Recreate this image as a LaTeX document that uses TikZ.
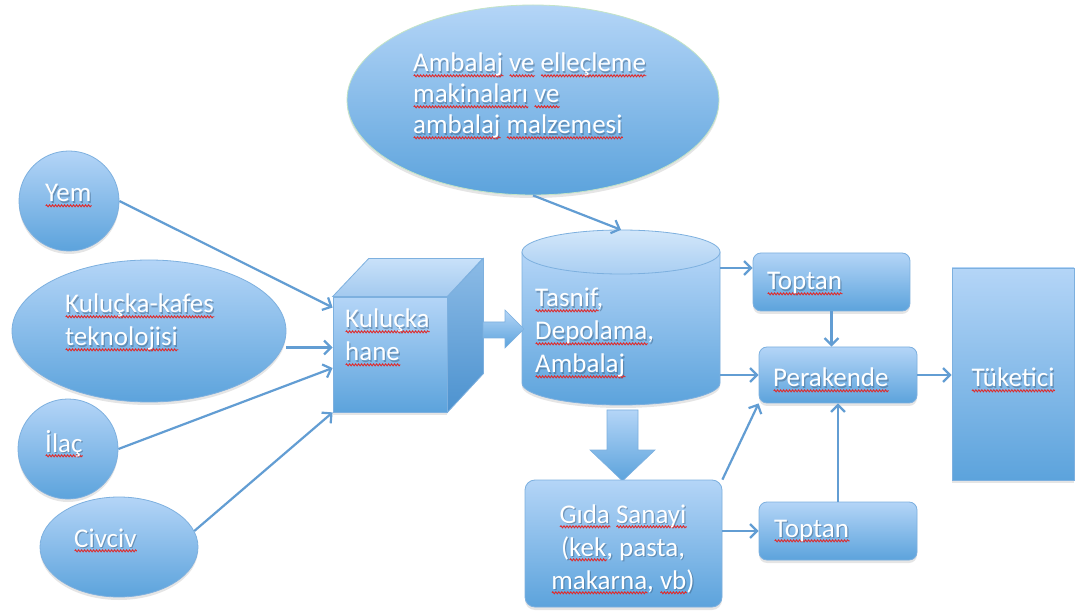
\documentclass[tikz,border=0pt]{standalone}
\usepackage{fontspec}
\setmainfont{Carlito}
\usetikzlibrary{shapes.geometric,arrows.meta,shadows,calc,decorations.pathmorphing}
\definecolor{topc}{HTML}{B4D5F7}
\definecolor{botc}{HTML}{5CA3DC}
\definecolor{edgec}{HTML}{7DB0DF}
\definecolor{ambedge}{HTML}{C3E4C6}
\definecolor{arrc}{HTML}{629DD3}
\definecolor{sqred}{HTML}{E02A2A}
\definecolor{cubetopa}{HTML}{C8E1F9}
\definecolor{cubetopb}{HTML}{A2C9EF}
\definecolor{sidea}{HTML}{8CBBE6}
\definecolor{sideb}{HTML}{4C92CF}
\definecolor{cyltopa}{HTML}{D3E7FA}
\definecolor{cyltopb}{HTML}{A9CEF2}
\definecolor{txtshade}{HTML}{3A5A7A}
\newlength\sqlen
\newif\ifsqshow \sqshowtrue
\newcommand\sq[1]{\ifsqshow\settowidth\sqlen{#1}\leavevmode\rlap{\tikz[baseline=0pt]\draw[sqred, line width=0.9pt, decorate, decoration={snake, amplitude=1pt, segment length=3pt}] (0pt,-3.8pt) -- (\sqlen,-3.8pt);}\fi#1}
\newcommand\tl[1]{\begin{tabular}[t]{@{}l@{}}#1\end{tabular}}
\newcommand\tcn[1]{\begin{tabular}[t]{@{}c@{}}#1\end{tabular}}
% text node with soft shadow: [options]{name}{position}{text}
\newcommand\tnode[4][]{%
  \node[txt,#1,text=txtshade,text opacity=0.45,xshift=1.2pt,yshift=-1.5pt] (#2s) at (#3) {\sqshowfalse #4};
  \node[txt,#1] (#2) at (#3) {#4};}
\begin{document}
\begin{tikzpicture}[x=1pt,y=-1pt,
 blob/.style={draw=edgec, line width=0.8pt, top color=topc, bottom color=botc,
   drop shadow={shadow xshift=0pt,shadow yshift=-3pt,opacity=0.2}},
 txt/.style={text=white, font=\fontsize{27}{33}\selectfont, inner sep=0pt, anchor=base west},
 conn/.style={draw=arrc, line width=2.2pt, -{Straight Barb[length=7pt,width=14pt]}},
 blockarrow/.style={draw=edgec, line width=0.6pt, top color=topc, bottom color=botc}
]
\useasboundingbox (0,0) rectangle (1085,612);
\fill[white] (0,0) rectangle (1085,612);

% shapes
\node[blob, ellipse, draw=ambedge, minimum width=372pt, minimum height=190pt, inner sep=0] (amb) at (533,100) {};
\node[blob, circle, minimum size=100pt, inner sep=0] (yem) at (69,201) {};
\node[blob, ellipse, minimum width=274pt, minimum height=142pt, inner sep=0] (kul) at (149,331) {};
\node[blob, circle, minimum size=100pt, inner sep=0] (ilac) at (68,449) {};
\node[blob, ellipse, minimum width=158pt, minimum height=100pt, inner sep=0] (civ) at (119,547) {};

% cube
\node[blob, rectangle, minimum width=114pt, minimum height=115pt, inner sep=0] (kh) at (390,354.5) {};
\path[draw=edgec, line width=0.8pt, top color=cubetopa, bottom color=cubetopb]
  (kh.north west) -- ++(36,-38) -- ++(114,0) -- (kh.north east) -- cycle;
\path[draw=edgec, line width=0.8pt, top color=sidea, bottom color=sideb]
  (kh.north east) -- ++(36,-38) -- ++(0,115) -- (kh.south east) -- cycle;

% cylinder
\path[draw=edgec, line width=0.8pt, top color=topc, bottom color=botc,
   drop shadow={shadow xshift=0pt,shadow yshift=-3pt,opacity=0.2}]
  (522,252) -- (522,383) arc[start angle=180,end angle=360,x radius=99pt,y radius=22pt] -- (720,252) -- cycle;
\path[draw=edgec, line width=0.8pt, top color=cyltopa, bottom color=cyltopb]
  (621,252) ellipse [x radius=99pt, y radius=22pt];
\node[inner sep=0, minimum width=198pt, minimum height=175pt] (cyl) at (621,317.5) {};

% block arrows
\path[blockarrow] (483,322) -- (505,322) -- (505,310) -- (524,329) -- (505,348) -- (505,338) -- (483,338) -- cycle;
\path[blockarrow] (607,410) -- (638,410) -- (638,450) -- (655,450) -- (622.5,481) -- (590,450) -- (607,450) -- cycle;

% boxes
\node[blob, rounded corners=10pt, minimum width=197pt, minimum height=127pt, inner sep=0] (gs) at (623.5,543.5) {};
\node[blob, rounded corners=8pt, minimum width=157pt, minimum height=58pt, inner sep=0] (tt) at (831.5,282) {};
\node[blob, rounded corners=8pt, minimum width=158pt, minimum height=56pt, inner sep=0] (pk) at (838,375) {};
\node[blob, rounded corners=8pt, minimum width=158pt, minimum height=58pt, inner sep=0] (tb) at (838,531) {};
\node[blob, rectangle, minimum width=122pt, minimum height=212pt, inner sep=0] (tk) at (1013,374) {};

% texts
\tnode[font=\fontsize{27}{31}\selectfont]{ambt}{413,72}{\tl{\sq{Ambalaj} \sq{ve} \sq{elleçleme}\\\sq{makinaları} \sq{ve}\\\sq{ambalaj} \sq{malzemesi}}}
\tnode{yemt}{45,202}{\sq{Yem}}
\tnode{kult}{65,313}{\tl{\sq{Kuluçka-kafes}\\\sq{teknolojisi}}}
\tnode{ilact}{45,452}{\sq{İlaç}}
\tnode{civt}{74,547}{\sq{Civciv}}
\tnode{kht}{345,328}{\tl{\sq{Kuluçka}\\\sq{hane}}}
\tnode{cylt}{535,307}{\tl{\sq{Tasnif},\\\sq{Depolama},\\\sq{Ambalaj}}}
\tnode[anchor=base]{gst}{623,523}{\tcn{\sq{Gıda} \sq{Sanayi}\\(\sq{kek}, pasta,\\\sq{makarna}, \sq{vb})}}
\tnode{ttt}{767,290}{\sq{Toptan}}
\tnode{tbt}{774,537}{\sq{Toptan}}
\tnode{pkt}{773,387}{\sq{Perakende}}
\tnode[anchor=base]{tkt}{1013,387}{\sq{Tüketici}}

% connectors
\coordinate (k1) at ([yshift=47pt]kh.west);
\coordinate (k2) at ([yshift=7pt]kh.west);
\coordinate (k3) at ([yshift=-13.5pt]kh.west);
\coordinate (t1) at ([yshift=14pt]tt.west);
\draw[conn] (yem.east) -- (k1);
\draw[conn] (kul.east |- k2) -- (k2);
\draw[conn] (ilac.east) -- (k3);
\draw[conn] (civ.12) -- (kh.south west);
\draw[conn] (amb.south) -- (cyl.north);
\draw[conn] (cyl.east |- t1) -- (t1);
\draw[conn] (cyl.east |- pk.west) -- (pk.west);
\draw[conn] (tt.south) -- (tt.south |- pk.north);
\draw[conn] (pk.east) -- (pk.east -| tk.west);
\draw[conn] (gs.north east) -- (pk.south west);
\draw[conn] (gs.east |- tb.west) -- (tb.west);
\draw[conn] (tb.north) -- (tb.north |- pk.south);
\end{tikzpicture}
\end{document}
